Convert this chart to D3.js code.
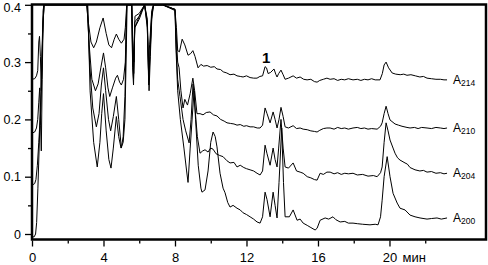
<!DOCTYPE html>
<html>
<head>
<meta charset="utf-8">
<script src="https://cdn.jsdelivr.net/npm/d3@7"></script>
<style>
  body { margin: 0; background: #fff; }
  svg { display: block; }
  text { font-family: "Liberation Sans", Arial, sans-serif; fill: #000; }
</style>
</head>
<body>
<div id="chart"></div>
<script>
(function() {
'use strict';

// axis ticks
const xTicks = [0, 4, 8, 12, 16, 20];
const xMinor = [2, 6, 10, 14, 18, 22];
const yTicks = [0, 0.1, 0.2, 0.3, 0.4];
const yMinor = [0.05, 0.15, 0.25, 0.35];
const xUnit = "мин";
const peakLabel = { text: "1", t: 13.1, v: 0.3 };

// traces, [time (min), absorbance]
const a214 = [[0,0.270],[0.15,0.271],[0.25,0.276],[0.32,0.285],[0.38,0.335],[0.42,0.345],[0.47,0.31],[0.52,0.25],[0.57,0.33],[0.62,0.39],[0.67,0.4],
  [3.05,0.4],[3.15,0.37],[3.3,0.335],[3.45,0.325],[3.6,0.335],[3.8,0.36],[3.98,0.377],[4.15,0.35],[4.3,0.33],[4.45,0.325],[4.6,0.34],[4.72,0.349],[4.85,0.34],[5.0,0.333],[5.15,0.34],[5.22,0.36],[5.3,0.4],
  [5.58,0.4],[5.64,0.34],[5.7,0.3],[5.76,0.38],[6.0,0.385],[6.3,0.4],[6.45,0.375],[6.52,0.3],[6.58,0.33],[6.7,0.39],[6.8,0.4],
  [7.3,0.4],[8.0,0.39],[8.08,0.36],[8.15,0.32],[8.25,0.318],[8.4,0.34],[8.55,0.33],[8.73,0.312],[8.88,0.315],[9.0,0.32],[9.12,0.31],[9.29,0.29],[9.45,0.296],[9.6,0.293],[9.8,0.294],[10.0,0.291],[10.2,0.292],[10.35,0.288],[10.55,0.287],[10.7,0.283],[10.9,0.281],[11.08,0.278],[11.3,0.279],[11.47,0.276],[11.65,0.275],[11.81,0.274],[12.0,0.276],[12.2,0.273],[12.4,0.272],[12.59,0.272],[12.75,0.275],[12.9,0.276],
  [13.04,0.292],[13.12,0.29],[13.21,0.28],[13.35,0.282],[13.54,0.288],[13.65,0.278],[13.71,0.274],[13.8,0.28],[13.93,0.286],[14.05,0.278],[14.16,0.27],[14.35,0.272],[14.61,0.276],[14.8,0.272],[15.0,0.274],[15.2,0.27],[15.39,0.269],[15.6,0.27],[15.8,0.266],[15.95,0.265],[16.1,0.268],[16.3,0.27],[16.5,0.272],[16.68,0.27],[16.9,0.271],[17.1,0.268],[17.3,0.27],[17.5,0.269],[17.7,0.271],[17.96,0.269],[18.2,0.27],[18.4,0.268],[18.6,0.27],[18.8,0.269],[19.0,0.271],[19.2,0.269],[19.47,0.269],
  [19.6,0.28],[19.7,0.295],[19.81,0.30],[19.95,0.29],[20.15,0.281],[20.35,0.279],[20.6,0.278],[20.8,0.279],[20.98,0.277],[21.2,0.278],[21.45,0.276],[21.7,0.274],[21.9,0.275],[22.1,0.272],[22.35,0.271],[22.6,0.27],[22.85,0.27],[23.05,0.269],[23.22,0.269]];

const a210 = [[0,0.176],[0.15,0.178],[0.25,0.185],[0.32,0.2],[0.38,0.23],[0.43,0.255],[0.48,0.19],[0.52,0.145],[0.57,0.27],[0.62,0.37],[0.67,0.4],
  [3.08,0.4],[3.2,0.33],[3.35,0.27],[3.55,0.25],[3.7,0.262],[3.85,0.29],[4.0,0.316],[4.12,0.29],[4.25,0.255],[4.35,0.24],[4.5,0.255],[4.68,0.272],[4.78,0.277],[4.9,0.265],[5.0,0.26],[5.12,0.27],[5.22,0.3],[5.3,0.4],
  [5.58,0.4],[5.63,0.32],[5.69,0.28],[5.75,0.37],[6.0,0.38],[6.3,0.4],[6.45,0.37],[6.53,0.27],[6.6,0.32],[6.7,0.385],[6.8,0.4],
  [7.3,0.4],[8.0,0.392],[8.06,0.35],[8.15,0.3],[8.23,0.29],[8.33,0.25],[8.45,0.22],[8.55,0.235],[8.7,0.225],[8.85,0.245],[9.0,0.272],[9.1,0.25],[9.23,0.21],[9.4,0.21],[9.57,0.208],[9.75,0.212],[9.96,0.213],[10.15,0.208],[10.35,0.206],[10.55,0.2],[10.75,0.197],[10.91,0.194],[11.1,0.193],[11.3,0.192],[11.47,0.19],[11.65,0.191],[11.85,0.188],[12.0,0.189],[12.2,0.187],[12.4,0.187],[12.6,0.185],[12.76,0.185],[12.9,0.19],
  [13.04,0.22],[13.15,0.21],[13.32,0.194],[13.49,0.213],[13.6,0.2],[13.71,0.185],[13.82,0.2],[13.93,0.221],[14.05,0.205],[14.16,0.187],[14.35,0.185],[14.61,0.189],[14.8,0.184],[15.0,0.185],[15.17,0.183],[15.4,0.182],[15.6,0.18],[15.8,0.179],[15.95,0.178],[16.1,0.181],[16.3,0.184],[16.5,0.185],[16.68,0.185],[16.9,0.183],[17.1,0.186],[17.3,0.184],[17.5,0.185],[17.7,0.183],[17.96,0.185],[18.2,0.186],[18.4,0.184],[18.6,0.185],[18.8,0.183],[19.0,0.184],[19.31,0.183],
  [19.5,0.188],[19.59,0.194],[19.7,0.21],[19.81,0.223],[19.92,0.21],[20.03,0.199],[20.31,0.192],[20.5,0.19],[20.7,0.188],[20.98,0.186],[21.15,0.185],[21.4,0.186],[21.6,0.184],[21.8,0.186],[22.1,0.185],[22.35,0.184],[22.6,0.186],[22.85,0.185],[23.05,0.184],[23.22,0.185]];

const a204 = [[0,0.085],[0.15,0.088],[0.22,0.095],[0.3,0.12],[0.38,0.16],[0.45,0.2],[0.5,0.22],[0.55,0.28],[0.6,0.35],[0.67,0.4],
  [3.1,0.4],[3.22,0.3],[3.4,0.22],[3.6,0.187],[3.75,0.21],[3.88,0.26],[4.0,0.29],[4.12,0.25],[4.28,0.2],[4.4,0.18],[4.55,0.205],[4.72,0.24],[4.85,0.2],[5.0,0.15],[5.1,0.17],[5.2,0.24],[5.3,0.4],
  [5.58,0.4],[5.63,0.3],[5.68,0.27],[5.75,0.36],[6.0,0.38],[6.3,0.4],[6.45,0.365],[6.53,0.26],[6.6,0.31],[6.7,0.38],[6.8,0.4],
  [7.3,0.4],[8.0,0.392],[8.06,0.33],[8.15,0.27],[8.28,0.24],[8.45,0.2],[8.6,0.18],[8.79,0.159],[8.9,0.2],[9.01,0.262],[9.12,0.22],[9.25,0.17],[9.4,0.141],[9.55,0.145],[9.68,0.147],[9.85,0.143],[10.0,0.15],[10.13,0.148],[10.3,0.14],[10.5,0.137],[10.69,0.135],[10.9,0.128],[11.08,0.124],[11.3,0.125],[11.47,0.117],[11.65,0.12],[11.85,0.116],[12.0,0.114],[12.2,0.112],[12.4,0.11],[12.59,0.106],[12.76,0.103],[12.9,0.11],
  [13.04,0.155],[13.15,0.14],[13.32,0.12],[13.49,0.15],[13.6,0.13],[13.71,0.117],[13.8,0.15],[13.93,0.2],[14.05,0.15],[14.16,0.117],[14.35,0.115],[14.61,0.124],[14.8,0.11],[15.0,0.108],[15.17,0.106],[15.4,0.1],[15.6,0.098],[15.8,0.095],[15.95,0.094],[16.12,0.106],[16.3,0.104],[16.5,0.108],[16.68,0.108],[16.9,0.105],[17.1,0.107],[17.3,0.104],[17.5,0.106],[17.7,0.105],[17.96,0.106],[18.2,0.103],[18.5,0.104],[18.8,0.101],[19.1,0.102],[19.31,0.1],
  [19.5,0.107],[19.59,0.117],[19.7,0.16],[19.81,0.194],[19.92,0.18],[20.03,0.164],[20.2,0.15],[20.31,0.141],[20.45,0.133],[20.59,0.129],[20.87,0.124],[21.0,0.122],[21.15,0.116],[21.43,0.112],[21.7,0.11],[21.9,0.111],[22.1,0.108],[22.35,0.109],[22.6,0.106],[22.85,0.107],[23.05,0.105],[23.22,0.106]];

const a200 = [[0,-0.005],[0.12,-0.005],[0.2,0.0],[0.26,0.02],[0.33,0.08],[0.4,0.15],[0.47,0.22],[0.55,0.3],[0.62,0.37],[0.68,0.4],
  [3.12,0.4],[3.25,0.25],[3.45,0.16],[3.65,0.117],[3.8,0.16],[3.9,0.21],[4.0,0.245],[4.15,0.18],[4.3,0.13],[4.42,0.115],[4.55,0.15],[4.72,0.205],[4.85,0.17],[4.98,0.15],[5.1,0.16],[5.2,0.2],[5.28,0.33],[5.32,0.4],
  [5.58,0.4],[5.63,0.29],[5.68,0.26],[5.75,0.36],[6.0,0.375],[6.3,0.4],[6.45,0.36],[6.55,0.25],[6.62,0.31],[6.7,0.375],[6.8,0.4],
  [7.3,0.4],[8.0,0.392],[8.06,0.32],[8.15,0.25],[8.3,0.2],[8.5,0.15],[8.65,0.11],[8.73,0.09],[8.85,0.15],[9.0,0.22],[9.07,0.25],[9.15,0.2],[9.3,0.12],[9.45,0.08],[9.51,0.073],[9.68,0.077],[9.85,0.11],[10.0,0.16],[10.13,0.178],[10.25,0.17],[10.35,0.152],[10.52,0.106],[10.69,0.08],[10.8,0.072],[10.95,0.055],[11.08,0.047],[11.25,0.05],[11.47,0.045],[11.65,0.042],[11.81,0.037],[12.0,0.034],[12.2,0.03],[12.4,0.026],[12.59,0.021],[12.76,0.019],[12.9,0.03],
  [13.04,0.073],[13.15,0.06],[13.32,0.03],[13.49,0.073],[13.6,0.05],[13.71,0.028],[13.82,0.09],[13.97,0.185],[14.07,0.09],[14.16,0.03],[14.4,0.03],[14.61,0.042],[14.83,0.024],[15.0,0.026],[15.17,0.019],[15.4,0.015],[15.56,0.012],[15.84,0.007],[15.95,0.01],[16.12,0.024],[16.4,0.028],[16.6,0.026],[16.84,0.03],[17.0,0.025],[17.24,0.021],[17.5,0.022],[17.7,0.019],[17.96,0.019],[18.2,0.018],[18.5,0.017],[18.91,0.016],[19.2,0.017],[19.36,0.016],
  [19.5,0.03],[19.59,0.059],[19.7,0.1],[19.87,0.135],[20.03,0.1],[20.2,0.071],[20.43,0.054],[20.59,0.045],[20.87,0.042],[21.15,0.033],[21.43,0.03],[21.71,0.028],[22.1,0.026],[22.35,0.027],[22.66,0.028],[22.9,0.026],[23.22,0.028]];

const traces = [
  { base: "A", sub: "214", data: a214 },
  { base: "A", sub: "210", data: a210 },
  { base: "A", sub: "204", data: a204 },
  { base: "A", sub: "200", data: a200 }
];

const W = 488;
const H = 265;
const LEFT = 32, RIGHT = 486, TOP = 4.5, BOTTOM = 239.5;

const xScale = d3.scaleLinear().domain([0, 25.4]).range([LEFT, RIGHT]);
const yScale = d3.scaleLinear().domain([0, 0.4]).range([234, 4.8]);

const svg = d3.select("#chart")
  .append("svg")
    .attr("width", W)
    .attr("height", H);

svg.append("clipPath")
  .attr("id", "plot-clip")
  .append("rect")
    .attr("x", LEFT)
    .attr("y", TOP)
    .attr("width", RIGHT - LEFT)
    .attr("height", BOTTOM - TOP);

const line = d3.line()
  .x((d) => xScale(d[0]))
  .y((d) => yScale(d[1]));

svg.append("g")
  .attr("clip-path", "url(#plot-clip)")
  .selectAll("path")
  .data(traces)
  .enter()
  .append("path")
    .attr("d", (d) => line(d.data))
    .attr("fill", "none")
    .attr("stroke", "#000")
    .attr("stroke-width", 1)
    .attr("stroke-linejoin", "round");

// frame
svg.append("rect")
  .attr("x", LEFT)
  .attr("y", TOP)
  .attr("width", RIGHT - LEFT)
  .attr("height", BOTTOM - TOP)
  .attr("fill", "none")
  .attr("stroke", "#000")
  .attr("stroke-width", 2.5);

// y axis
const yAxis = d3.axisLeft(yScale)
  .tickValues(yTicks)
  .tickSize(6)
  .tickPadding(4)
  .tickFormat((d) => d === 0 ? "0" : d3.format(".1f")(d));

const yMinorAxis = d3.axisLeft(yScale)
  .tickValues(yMinor)
  .tickSize(3)
  .tickFormat("");

svg.append("g")
  .attr("id", "y-axis")
  .attr("transform", `translate(${LEFT - 1}, 0)`)
  .call(yAxis)
  .call((g) => g.select(".domain").remove());

svg.append("g")
  .attr("transform", `translate(${LEFT - 1}, 0)`)
  .call(yMinorAxis)
  .call((g) => g.select(".domain").remove());

// x axis
const xAxis = d3.axisBottom(xScale)
  .tickValues(xTicks)
  .tickSize(6)
  .tickPadding(6);

const xMinorAxis = d3.axisBottom(xScale)
  .tickValues(xMinor)
  .tickSize(3)
  .tickFormat("");

svg.append("g")
  .attr("id", "x-axis")
  .attr("transform", `translate(0, ${BOTTOM + 1})`)
  .call(xAxis)
  .call((g) => g.select(".domain").remove());

svg.append("g")
  .attr("transform", `translate(0, ${BOTTOM + 1})`)
  .call(xMinorAxis)
  .call((g) => g.select(".domain").remove());

svg.selectAll(".tick line")
  .attr("stroke", "#000")
  .attr("stroke-width", 1.3);

svg.selectAll("#x-axis .tick text")
  .attr("font-size", 13)
  .attr("font-family", "Liberation Sans, Arial, sans-serif");

// top label sits right at the edge, nudge it down a little
svg.selectAll("#y-axis .tick text")
  .attr("font-size", 12.5)
  .attr("font-family", "Liberation Sans, Arial, sans-serif")
  .attr("dy", (d) => d === 0.4 ? "0.5em" : "0.32em");

svg.append("text")
  .attr("x", xScale(20) + 13)
  .attr("y", BOTTOM + 1 + 12 + 13 * 0.71)
  .attr("font-size", 13)
  .text(xUnit);

// trace labels
const labels = svg.append("g")
  .selectAll("text")
  .data(traces)
  .enter()
  .append("text")
    .attr("x", (d) => xScale(d.data[d.data.length - 1][0]) + 6)
    .attr("y", (d) => yScale(d.data[d.data.length - 1][1]) + 4)
    .attr("font-size", 12);

labels.append("tspan").text((d) => d.base);
labels.append("tspan")
  .attr("font-size", 8.5)
  .attr("dy", 2)
  .text((d) => d.sub);

svg.append("text")
  .attr("x", xScale(peakLabel.t))
  .attr("y", yScale(peakLabel.v) + 1)
  .attr("text-anchor", "middle")
  .attr("font-family", "Liberation Serif, Times New Roman, serif")
  .attr("font-weight", "bold")
  .attr("font-size", 15)
  .text(peakLabel.text);

})();
</script>
</body>
</html>
